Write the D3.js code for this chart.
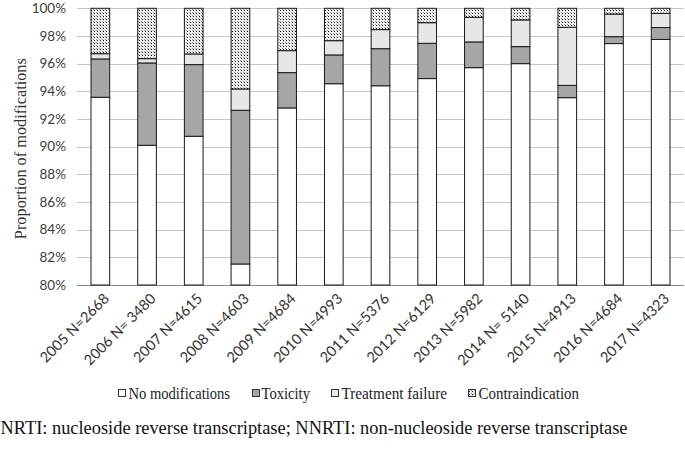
<!DOCTYPE html>
<html>
<head>
<meta charset="utf-8">
<script src="https://cdn.jsdelivr.net/npm/d3@7"></script>
<style>
  html, body { margin: 0; padding: 0; background: #fff; }
  svg { display: block; }
</style>
</head>
<body>
<svg id="chart" width="685" height="476"></svg>
<script>
const categories = ["2005 N=2668", "2006 N= 3480", "2007 N=4615", "2008 N=4603", "2009 N=4684", "2010 N=4993", "2011 N=5376", "2012 N=6129", "2013 N=5982", "2014 N= 5140", "2015 N=4913", "2016 N=4684", "2017 N=4323"];
const noModifications = [93.57, 90.10, 90.75, 81.52, 92.80, 94.55, 94.40, 94.92, 95.71, 96.00, 93.54, 97.45, 97.75];
const toxicity =        [2.77, 5.95, 5.18, 11.11, 2.55, 2.08, 2.68, 2.55, 1.86, 1.23, 0.89, 0.50, 0.86];
const treatmentFailure =[0.38, 0.31, 0.77, 1.54, 1.59, 1.03, 1.38, 1.49, 1.78, 1.93, 4.20, 1.63, 1.02];
const contraindication = categories.map((c, i) => +(100 - noModifications[i] - toxicity[i] - treatmentFailure[i]).toFixed(2));
const seriesNames = ["No modifications", "Toxicity", "Treatment failure", "Contraindication"];
const yTicks = [80, 82, 84, 86, 88, 90, 92, 94, 96, 98, 100];
const footnote = "NRTI: nucleoside reverse transcriptase; NNRTI: non-nucleoside reverse transcriptase";

const svg = d3.select("#chart");
const defs = svg.append("defs");
const pat = defs.append("pattern").attr("id", "dots").attr("patternUnits", "userSpaceOnUse")
  .attr("width", 3).attr("height", 3);
pat.append("rect").attr("width", 3).attr("height", 3).attr("fill", "#eeeeee");
pat.append("rect").attr("x", 1).attr("y", 1).attr("width", 1).attr("height", 1).attr("fill", "#111");
pat.append("rect").attr("x", 0).attr("y", 0).attr("width", 1).attr("height", 1).attr("fill", "#999");

const fills = ["#ffffff", "#a6a6a6", "#e7e7e7", "url(#dots)"];

const plotLeft = 77, plotRight = 684, plotTop = 8.3, plotBottom = 285;
const x = d3.scaleBand().domain(categories).range([plotLeft, plotRight]).paddingInner(0.6).paddingOuter(0.3);
const y = d3.scaleLinear().domain([80, 100]).range([plotBottom, plotTop]).clamp(true);

// gridlines
svg.append("g").selectAll("line").data(yTicks).join("line")
  .attr("x1", plotLeft).attr("x2", plotRight)
  .attr("y1", d => Math.round(y(d)) + 0.5).attr("y2", d => Math.round(y(d)) + 0.5)
  .attr("stroke", d => d === 80 ? "#8c8c8c" : "#c8c8c8").attr("stroke-width", 1);

// y axis labels
const yAxis = d3.axisLeft(y).tickValues(yTicks).tickFormat(d => d + "%").tickSize(0).tickPadding(0);
const ya = svg.append("g").attr("transform", `translate(66,0)`).call(yAxis);
ya.select(".domain").remove();
ya.selectAll("text").attr("font-family", "Lato, 'Liberation Sans', sans-serif").attr("font-size", 13.5).attr("fill", "#404040");

// stacked data
const rows = categories.map((c, i) => ({
  cat: c,
  "No modifications": noModifications[i],
  "Toxicity": toxicity[i],
  "Treatment failure": treatmentFailure[i],
  "Contraindication": contraindication[i]
}));
const stacked = d3.stack().keys(seriesNames)(rows);

const gBars = svg.append("g");
stacked.forEach((s, si) => {
  gBars.append("g").selectAll("rect").data(s).join("rect")
    .attr("x", d => x(d.data.cat))
    .attr("width", x.bandwidth())
    .attr("y", d => y(d[1]))
    .attr("height", d => Math.max(0, y(d[0]) - y(d[1])))
    .attr("fill", fills[si])
    .attr("stroke", "#1a1a1a")
    .attr("stroke-width", 1);
});

// x labels
svg.append("g").selectAll("text").data(categories).join("text")
  .attr("transform", d => `translate(${x(d) + x.bandwidth() / 2 + 6},${plotBottom + 11}) rotate(-45)`)
  .attr("text-anchor", "end")
  .attr("dy", "0.35em")
  .attr("font-family", "Lato, 'Liberation Sans', sans-serif")
  .attr("font-size", 14.5)
  .attr("fill", "#333")
  .text(d => d);

// y title
svg.append("text")
  .attr("transform", `translate(26,${(plotTop + plotBottom) / 2 + 2}) rotate(-90)`)
  .attr("text-anchor", "middle")
  .attr("font-family", "'Liberation Serif', 'DejaVu Serif', serif")
  .attr("font-size", 17.5)
  .attr("fill", "#333")
  .attr("textLength", 181).attr("lengthAdjust", "spacingAndGlyphs")
  .text("Proportion of modifications");

// legend
const legendItems = [
  { name: "No modifications", sx: 118, tx: 128.5, w: 101.5 },
  { name: "Toxicity", sx: 252, tx: 261.5, w: 48.5 },
  { name: "Treatment failure", sx: 331, tx: 341.5, w: 105.5 },
  { name: "Contraindication", sx: 468, tx: 478.5, w: 100.5 }
];
const lg = svg.append("g");
legendItems.forEach((it, i) => {
  lg.append("rect").attr("x", it.sx + 0.5).attr("y", 389.5).attr("width", 7).attr("height", 7)
    .attr("fill", fills[i]).attr("stroke", "#333").attr("stroke-width", 1);
  lg.append("text").attr("x", it.tx).attr("y", 398.5)
    .attr("font-family", "'Liberation Serif', 'DejaVu Serif', serif")
    .attr("font-size", 16.5).attr("fill", "#222")
    .attr("textLength", it.w).attr("lengthAdjust", "spacingAndGlyphs")
    .text(it.name);
});

// footnote
svg.append("text").attr("x", 0.5).attr("y", 434)
  .attr("font-family", "'Liberation Serif', 'DejaVu Serif', serif")
  .attr("font-size", 18.5).attr("fill", "#111")
  .attr("textLength", 627).attr("lengthAdjust", "spacingAndGlyphs")
  .text(footnote);
</script>
</body>
</html>
